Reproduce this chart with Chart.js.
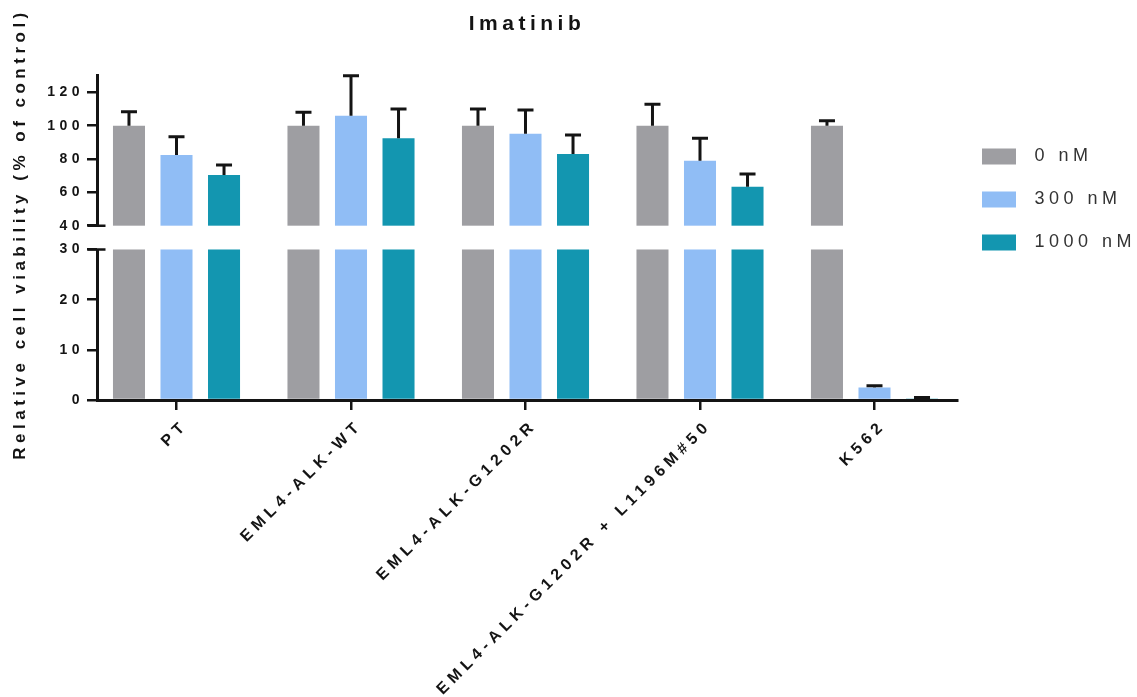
<!DOCTYPE html>
<html>
<head>
<meta charset="utf-8">
<title>Imatinib</title>
<script src="https://cdn.jsdelivr.net/npm/chart.js"></script>
<style>
  html, body { margin: 0; padding: 0; background: #ffffff; }
  #wrap { width: 1137px; height: 697px; }
</style>
</head>
<body>
<div id="wrap"><canvas id="chart" width="1137" height="697"></canvas></div>
<script>
// ---- data ----
const categories = ['PT', 'EML4-ALK-WT', 'EML4-ALK-G1202R', 'EML4-ALK-G1202R + L1196M#50', 'K562'];
const doseLabels = ['0 nM', '300 nM', '1000 nM'];
const viability0 = [100, 100, 100, 100, 100];
const sd0 = [8.4, 8.0, 10.0, 12.8, 3.0];
const viability300 = [82.4, 106.0, 95.2, 79.0, 2.5];
const sd300 = [11.0, 24.0, 14.2, 13.4, 0.35];
const viability1000 = [70.4, 92.4, 83.0, 63.4, 0.3];
const sd1000 = [6.0, 17.6, 11.4, 7.6, 0.2];
const yTickValues = [0, 10, 20, 30, 40, 60, 80, 100, 120];
const yTitle = 'Relative cell viability (% of control)';
const chartTitle = 'Imatinib';

// ---- look ----
const FONT = '"Liberation Sans", Arial, Helvetica, sans-serif';
const COLORS = ['#9e9ea2', '#90bdf5', '#1396b0'];
const INK = '#141414';
const LEGEND_WIDTH = 180;
const TEXT_SPACING = '4.5px';
const X_LABEL_SPACING = '4.9px';
// y axis is split: 0-30 in the lower part, 40-max in the upper part
const AXIS_BREAK = { low: 30, high: 40, lowShare: 0.4617, highStart: 0.5347 };

Chart.defaults.font.family = FONT;
Chart.defaults.color = INK;

// Linear scale with a gap between AXIS_BREAK.low and AXIS_BREAK.high
class BrokenLinearScale extends Chart.LinearScale {
  _decimalOf(v) {
    const { low, high, lowShare, highStart } = AXIS_BREAK;
    const min = this.min, max = this.max;
    if (v <= low) return (v - min) / (low - min) * lowShare;
    if (v >= high) return highStart + (v - high) / (max - high) * (1 - highStart);
    return lowShare + (v - low) / (high - low) * (highStart - lowShare);
  }
  getPixelForValue(v) {
    if (v === null || v === undefined || isNaN(v)) return NaN;
    return this.getPixelForDecimal(this._decimalOf(v));
  }
  getValueForPixel(p) {
    const { low, high, lowShare, highStart } = AXIS_BREAK;
    const d = this.getDecimalForPixel(p);
    const min = this.min, max = this.max;
    if (d <= lowShare) return min + d / lowShare * (low - min);
    if (d >= highStart) return high + (d - highStart) / (1 - highStart) * (max - high);
    return low + (d - lowShare) / (highStart - lowShare) * (high - low);
  }
}
BrokenLinearScale.id = 'brokenLinear';
BrokenLinearScale.defaults = Chart.LinearScale.defaults;

// Linear scale whose tick labels are drawn with wider letter spacing
class SpacedLinearScale extends Chart.LinearScale {
  drawLabels(area) {
    const ctx = this.ctx;
    ctx.save();
    ctx.letterSpacing = X_LABEL_SPACING;
    super.drawLabels(area);
    ctx.restore();
  }
}
SpacedLinearScale.id = 'spacedLinear';
SpacedLinearScale.defaults = Chart.LinearScale.defaults;
Chart.register(BrokenLinearScale, SpacedLinearScale);

const values = [viability0, viability300, viability1000];
const errors = [sd0, sd300, sd1000];

const datasets = doseLabels.map((label, d) => ({
  label,
  data: values[d].map((v, i) => ({ x: i, y: v })),
  sd: errors[d],
  backgroundColor: COLORS[d],
  borderWidth: 0,
  barPercentage: 0.674,
  categoryPercentage: 0.817
}));

// fixed legend column width on the right
const legendWidth = {
  id: 'legendWidth',
  afterInit(chart) {
    const legend = chart.legend;
    const fit = legend.fit;
    legend.fit = function () { fit.call(this); this.width = LEGEND_WIDTH; };
  },
  beforeDraw(chart) {
    chart.ctx.letterSpacing = TEXT_SPACING;
  }
};

// white gap, SD bars, broken y axis line and the rotated axis title
const decorations = {
  id: 'decorations',
  afterDatasetsDraw(chart) {
    const { ctx, chartArea } = chart;
    const y = chart.scales.y;
    const yLow = y.getPixelForValue(AXIS_BREAK.low);
    const yHigh = y.getPixelForValue(AXIS_BREAK.high);
    ctx.save();
    ctx.fillStyle = '#ffffff';
    ctx.fillRect(chartArea.left, yHigh, chartArea.right - chartArea.left, yLow - yHigh);

    // upper error bars
    ctx.strokeStyle = INK;
    ctx.lineWidth = 3;
    ctx.lineCap = 'butt';
    chart.data.datasets.forEach((ds, d) => {
      const meta = chart.getDatasetMeta(d);
      meta.data.forEach((bar, i) => {
        const v = ds.data[i].y;
        const top = y.getPixelForValue(v);
        const cap = y.getPixelForValue(v + ds.sd[i]);
        ctx.beginPath();
        ctx.moveTo(bar.x, top);
        ctx.lineTo(bar.x, cap);
        ctx.moveTo(bar.x - 8, cap);
        ctx.lineTo(bar.x + 8, cap);
        ctx.stroke();
      });
    });

    // y axis in two pieces
    const ax = chartArea.left + 0.5;
    ctx.beginPath();
    ctx.moveTo(ax, chartArea.bottom + 1.5);
    ctx.lineTo(ax, yLow);
    ctx.moveTo(ax, yHigh);
    ctx.lineTo(ax, chartArea.top);
    ctx.stroke();
    // break marks
    ctx.lineWidth = 2.5;
    ctx.beginPath();
    ctx.moveTo(ax - 10, yLow);
    ctx.lineTo(ax + 8, yLow);
    ctx.moveTo(ax - 10, yHigh);
    ctx.lineTo(ax + 8, yHigh);
    ctx.stroke();
    ctx.restore();
  },
  afterDraw(chart) {
    const { ctx } = chart;
    ctx.save();
    ctx.letterSpacing = TEXT_SPACING;
    ctx.font = 'bold 17px ' + FONT;
    ctx.fillStyle = INK;
    ctx.translate(20, 234);
    ctx.rotate(-Math.PI / 2);
    ctx.textAlign = 'center';
    ctx.textBaseline = 'middle';
    ctx.fillText(yTitle, 0, 0);
    ctx.restore();
  }
};

new Chart(document.getElementById('chart'), {
  type: 'bar',
  data: { datasets },
  plugins: [legendWidth, decorations],
  options: {
    responsive: false,
    devicePixelRatio: 1,
    animation: false,
    events: [],
    layout: { padding: 0 },
    plugins: {
      tooltip: { enabled: false },
      title: {
        display: true,
        text: chartTitle,
        fullSize: false,
        color: INK,
        font: { size: 21, weight: 'bold' },
        padding: { top: 12, bottom: 36.8 }
      },
      legend: {
        position: 'right',
        align: 'start',
        fullSize: false,
        title: { display: true, text: '', font: { size: 12 }, padding: { top: 34.1, bottom: 0 } },
        labels: {
          boxWidth: 34,
          boxHeight: 16,
          padding: 25,
          color: '#333333',
          font: { size: 18 },
          generateLabels: (chart) =>
            Chart.defaults.plugins.legend.labels.generateLabels(chart).map(l => ({ ...l, text: ' ' + l.text }))
        }
      }
    },
    scales: {
      x: {
        type: 'spacedLinear',
        position: 'bottom',
        offset: false,
        min: -0.4556,
        max: 4.4728,
        afterBuildTicks: (s) => { s.ticks = categories.map((_, i) => ({ value: i })); },
        afterFit: (s) => { s.height = 297; },
        grid: { offset: false, drawOnChartArea: false, drawTicks: true, tickLength: 10, color: INK, lineWidth: 2.5 },
        border: { display: true, color: INK, width: 3 },
        ticks: {
          autoSkip: false,
          minRotation: 45,
          maxRotation: 45,
          padding: 6,
          labelOffset: 9,
          color: INK,
          font: { size: 16, weight: 'bold' },
          callback: (v, i) => categories[i]
        }
      },
      y: {
        type: 'brokenLinear',
        position: 'left',
        min: 0,
        max: 131,
        afterBuildTicks: (s) => { s.ticks = yTickValues.map(v => ({ value: v })); },
        afterFit: (s) => { s.width = 97; },
        grid: { drawOnChartArea: false, drawTicks: true, tickLength: 10, color: INK, lineWidth: 2.5 },
        border: { display: false },
        ticks: {
          padding: 3,
          color: INK,
          font: { size: 14, weight: 'bold' }
        }
      }
    }
  }
});
</script>
</body>
</html>
